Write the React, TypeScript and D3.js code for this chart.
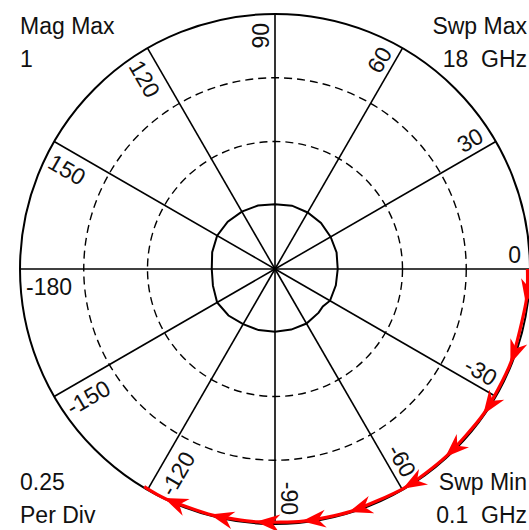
import React from "react";
import * as d3 from "d3";

// Polar display: magnitude (linear, 0.25 per division) vs. phase (deg)
const magDivisions = [0.5, 0.75];
const phaseTicks = [0, 30, 60, 90, 120, 150, -180, -150, -120, -90, -60, -30];

// Reflection trace (red), swept 0.1 → 18 GHz
const sweepPhase = [0, -7.5, -21.6, -34.6, -47.5, -59.5, -72.8, -83.6, -94, -104.5, -115.5, -121];
const sweepMag = [0.99, 0.993, 0.995, 0.996, 0.995, 0.997, 0.996, 0.995, 0.994, 0.996, 0.998, 0.996];

// Transmission trace (black)
const thruPhase = [0, 15, 30, 45, 60, 75, 90, 105, 120, 135, 150, 165, 180, -165, -150, -135, -120, -105, -90, -75, -60, -45, -38, -30, -15];
const thruMag = [0.246, 0.25, 0.252, 0.255, 0.256, 0.257, 0.254, 0.258, 0.26, 0.262, 0.262, 0.255, 0.248, 0.252, 0.262, 0.258, 0.25, 0.248, 0.246, 0.246, 0.247, 0.242, 0.238, 0.249, 0.247];

const cornerTopLeft = ["Mag Max", "1"];
const cornerTopRight = ["Swp Max", "18  GHz"];
const cornerBottomLeft = ["0.25", "Per Div"];
const cornerBottomRight = ["Swp Min", "0.1  GHz"];

const W = 529;
const H = 530;
const cx = 275;
const cy = 269;
const R = 255;
const FONT = "'Liberation Sans', Arial, sans-serif";

export default function App() {
  const r = d3.scaleLinear().domain([0, 1]).range([0, R]);
  // phase in degrees (ccw from east) → d3 radial angle (cw from north)
  const toTheta = (deg: number) => Math.PI / 2 - (deg * Math.PI) / 180;

  const sweepLine = d3
    .lineRadial<number>()
    .angle((_, i) => toTheta(sweepPhase[i]))
    .radius((_, i) => r(sweepMag[i]))
    .curve(d3.curveCardinal.tension(0.3));

  const thruLine = d3
    .lineRadial<number>()
    .angle((_, i) => toTheta(thruPhase[i]))
    .radius((_, i) => r(thruMag[i]))
    .curve(d3.curveLinearClosed);

  const textStyle = { fontFamily: FONT, fontSize: 23, fill: "#111", whiteSpace: "pre" as const };

  return (
    <svg
      width={W}
      height={H}
      style={{ position: "fixed", left: 0, top: 0, background: "#fff" }}
    >
      <defs>
        <marker
          id="arrow"
          markerUnits="userSpaceOnUse"
          markerWidth={30}
          markerHeight={30}
          viewBox="-16 -8 20 16"
          refX={0}
          refY={0}
          orient="auto"
        >
          <path d="M1,0 L-15,-6 L-10,0 L-15,6 Z" fill="#ff0000" />
        </marker>
      </defs>

      <g transform={`translate(${cx},${cy})`}>
        {/* dashed magnitude circles */}
        {magDivisions.map((m) => (
          <circle
            key={m}
            r={r(m)}
            fill="none"
            stroke="#000"
            strokeWidth={1.4}
            strokeDasharray="8,5"
          />
        ))}
        {/* radial phase lines */}
        {phaseTicks.map((a) => {
          const t = toTheta(a);
          return (
            <line
              key={a}
              x1={0}
              y1={0}
              x2={r(1) * Math.sin(t)}
              y2={-r(1) * Math.cos(t)}
              stroke="#000"
              strokeWidth={1.6}
            />
          );
        })}
        {/* outer boundary */}
        <circle r={r(1)} fill="none" stroke="#000" strokeWidth={2} />

        {/* phase labels */}
        {phaseTicks.map((a) => {
          const outward = a >= -90 && a <= 90;
          return (
            <g key={`l${a}`} transform={`rotate(${-a})`}>
              {outward ? (
                <text x={R - 9} y={-6} textAnchor="end" style={textStyle}>
                  {a}
                </text>
              ) : (
                <text
                  transform={`translate(${R - 6},0) rotate(180)`}
                  x={0}
                  y={26}
                  textAnchor="start"
                  style={textStyle}
                >
                  {a}
                </text>
              )}
            </g>
          );
        })}

        {/* transmission trace */}
        <path d={thruLine(thruPhase) ?? ""} fill="none" stroke="#000" strokeWidth={2} />

        {/* reflection trace */}
        <path
          d={sweepLine(sweepPhase) ?? ""}
          fill="none"
          stroke="#ff0000"
          strokeWidth={3.2}
          strokeLinejoin="round"
          markerMid="url(#arrow)"
        />
      </g>

      {/* annotations */}
      {cornerTopLeft.map((s, i) => (
        <text key={s} x={20} y={34 + i * 33} style={textStyle}>
          {s}
        </text>
      ))}
      {cornerTopRight.map((s, i) => (
        <text key={s} x={527} y={34 + i * 33} textAnchor="end" style={textStyle}>
          {s}
        </text>
      ))}
      {cornerBottomLeft.map((s, i) => (
        <text key={s} x={20} y={490 + i * 33} style={textStyle}>
          {s}
        </text>
      ))}
      {cornerBottomRight.map((s, i) => (
        <text key={s} x={527} y={490 + i * 33} textAnchor="end" style={textStyle}>
          {s}
        </text>
      ))}
    </svg>
  );
}
